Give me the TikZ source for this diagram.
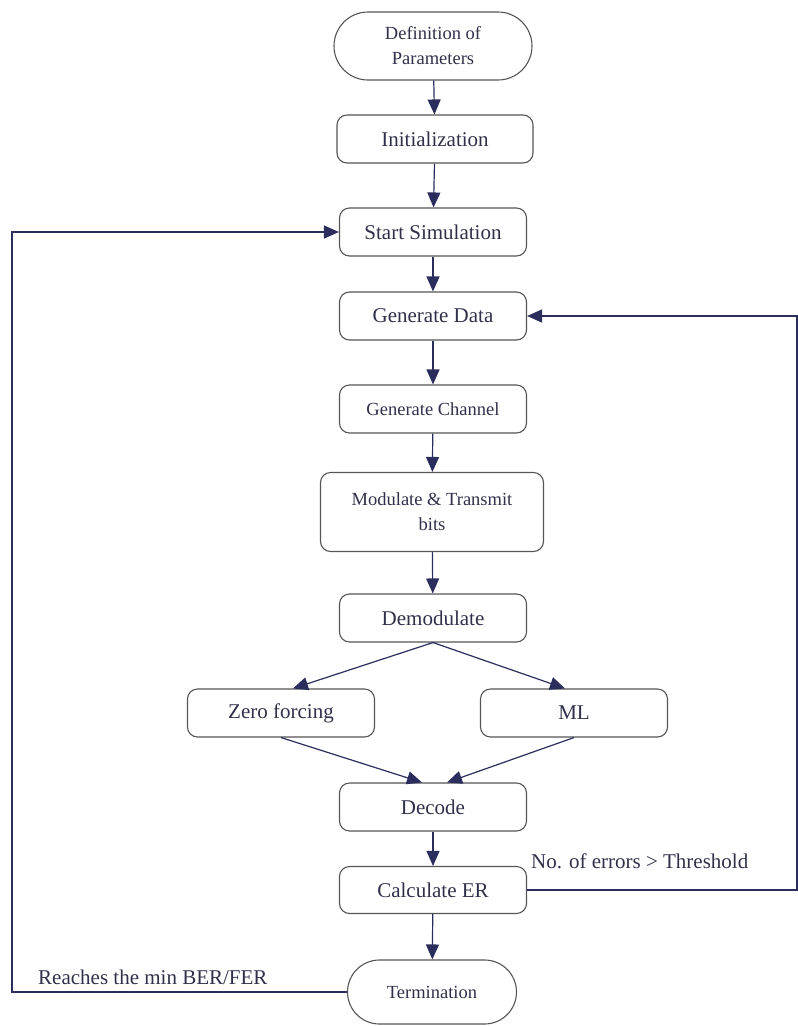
\documentclass[tikz,border=0pt]{standalone}
\usepackage{fontspec}
\setmainfont{LiberationSerif-Regular.ttf}
\usetikzlibrary{arrows.meta,shapes.misc}
\definecolor{boxline}{HTML}{555555}
\definecolor{arr}{HTML}{2B2D5C}
\definecolor{txt}{HTML}{30304A}
\tikzset{
  proc/.style={draw=boxline, line width=1.1pt, rounded corners=10pt, minimum width=187pt, minimum height=48pt, text=txt, font=\fontsize{21}{24}\selectfont, align=center, inner sep=2pt},
  term/.style={draw=boxline, line width=1.1pt, rounded rectangle, minimum width=202pt, minimum height=68pt, text=txt, font=\fontsize{18.5}{25}\selectfont, align=center, inner sep=2pt},
  flow/.style={draw=arr, line width=1.2pt, -{Triangle[length=15pt,width=13pt]}},
  lbl/.style={text=txt, font=\fontsize{21}{24}\selectfont, inner sep=0pt}
}
\begin{document}
\begin{tikzpicture}[x=1pt,y=-1pt]
\useasboundingbox (0,0) rectangle (798,1026);
\node[term] (def) at (433,46) {Definition of\\Parameters};
\node[proc, minimum width=196pt] (init) at (435,139) {Initialization};
\node[proc] (start) at (433,232) {Start Simulation};
\node[proc] (gd) at (433,316) {Generate Data};
\node[proc, font=\fontsize{18.5}{21}\selectfont] (gc) at (433,409) {Generate Channel};
\node[proc, minimum width=223pt, minimum height=79pt, font=\fontsize{18.5}{25}\selectfont] (mod) at (432,512) {Modulate \& Transmit\\bits};
\node[proc] (dem) at (433,618) {Demodulate};
\node[proc] (zf) at (281,713) {Zero forcing};
\node[proc] (ml) at (574,713) {ML};
\node[proc] (dec) at (433,807) {Decode};
\node[proc, minimum height=47pt] (calc) at (433,890) {Calculate ER};
\node[term, minimum width=173pt, minimum height=64pt] (termn) at (432,992) {Termination};
\coordinate (rc) at (797,890);
\coordinate (lc) at (12,994);
\draw[flow] (def) -- (init);
\draw[flow] (init) -- (start);
\draw[flow] (start) -- (gd);
\draw[flow] (gd) -- (gc);
\draw[flow] (gc) -- (mod);
\draw[flow] (mod) -- (dem);
\draw[flow] (dem.south) -- ([xshift=12pt]zf.north);
\draw[flow] (dem.south) -- ([xshift=-9pt]ml.north);
\draw[flow] (zf.south) -- ([xshift=-11pt]dec.north);
\draw[flow] (ml.south) -- ([xshift=14pt]dec.north);
\draw[flow] (dec) -- (calc);
\draw[flow] (calc) -- (termn);
\draw[flow] (calc.east) -- (calc.east -| rc) |- (gd.east);
\draw[flow] (termn.west) -- (termn.west -| lc) |- (start.west);
\node[lbl, anchor=west] (l1) at (531,861) {No. of errors > Threshold};
\node[lbl, anchor=west] (l2) at (38,977) {Reaches the min BER/FER};
\end{tikzpicture}
\end{document}
